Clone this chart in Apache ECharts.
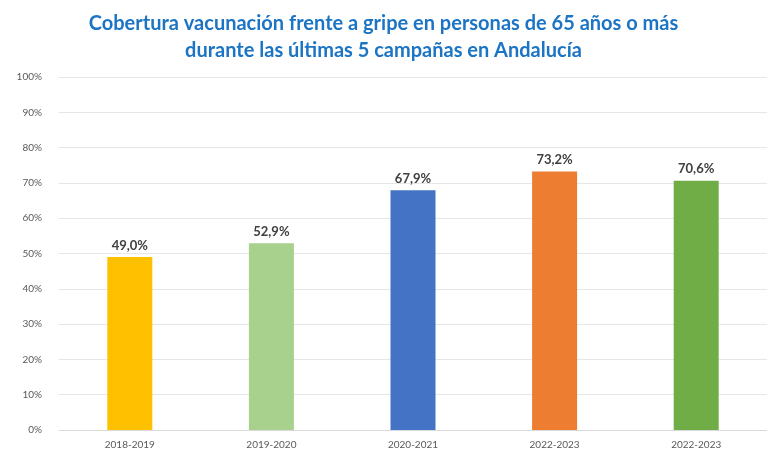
<!DOCTYPE html>
<html>
<head>
<meta charset="utf-8">
<script src="https://cdn.jsdelivr.net/npm/echarts@6/dist/echarts.min.js"></script>
<style>
  html, body { margin: 0; padding: 0; background: #ffffff; }
  #main { width: 767px; height: 459px; }
</style>
</head>
<body>
<div id="main"></div>
<script>
// campañas y coberturas (%)
var campanas = ['2018-2019', '2019-2020', '2020-2021', '2022-2023', '2022-2023'];
var cobertura = [49.0, 52.9, 67.9, 73.2, 70.6];
var colores = ['#FFC000', '#A9D18E', '#4472C4', '#ED7D31', '#70AD47'];
var ejeTicks = [0, 10, 20, 30, 40, 50, 60, 70, 80, 90, 100];

var chart = echarts.init(document.getElementById('main'));

var barras = [];
for (var i = 0; i < cobertura.length; i++) {
  barras.push({ value: cobertura[i], itemStyle: { color: colores[i] } });
}

var option = {
  animation: false,
  backgroundColor: '#ffffff',
  textStyle: { fontFamily: 'Lato' },
  title: {
    text: 'Cobertura vacunación frente a gripe en personas de 65 años o más\ndurante las últimas 5 campañas en Andalucía',
    left: 'center',
    top: 5,
    textStyle: {
      color: '#1C74C4',
      fontFamily: 'Lato',
      fontWeight: 'bold',
      fontSize: 20,
      lineHeight: 27
    }
  },
  grid: {
    left: 59,
    right: 0,
    top: 77,
    bottom: 29
  },
  xAxis: {
    type: 'category',
    data: campanas,
    axisTick: { show: false },
    axisLine: { lineStyle: { color: '#D9D9D9' } },
    axisLabel: { color: '#595959', fontSize: 10, margin: 10 }
  },
  yAxis: {
    type: 'value',
    min: 0,
    max: 100,
    interval: 10,
    axisLabel: {
      color: '#595959',
      fontSize: 10,
      margin: 17,
      formatter: function (v) { return ejeTicks.indexOf(v) >= 0 ? v + '%' : ''; }
    },
    splitLine: { lineStyle: { color: '#E6E6E6' } }
  },
  series: [{
    type: 'bar',
    data: barras,
    barWidth: 45,
    label: {
      show: true,
      position: 'top',
      distance: 5,
      color: '#404040',
      fontSize: 13,
      fontWeight: 'bold',
      formatter: function (p) { return p.value.toFixed(1).replace('.', ',') + '%'; }
    }
  }]
};

chart.setOption(option);
</script>
</body>
</html>
